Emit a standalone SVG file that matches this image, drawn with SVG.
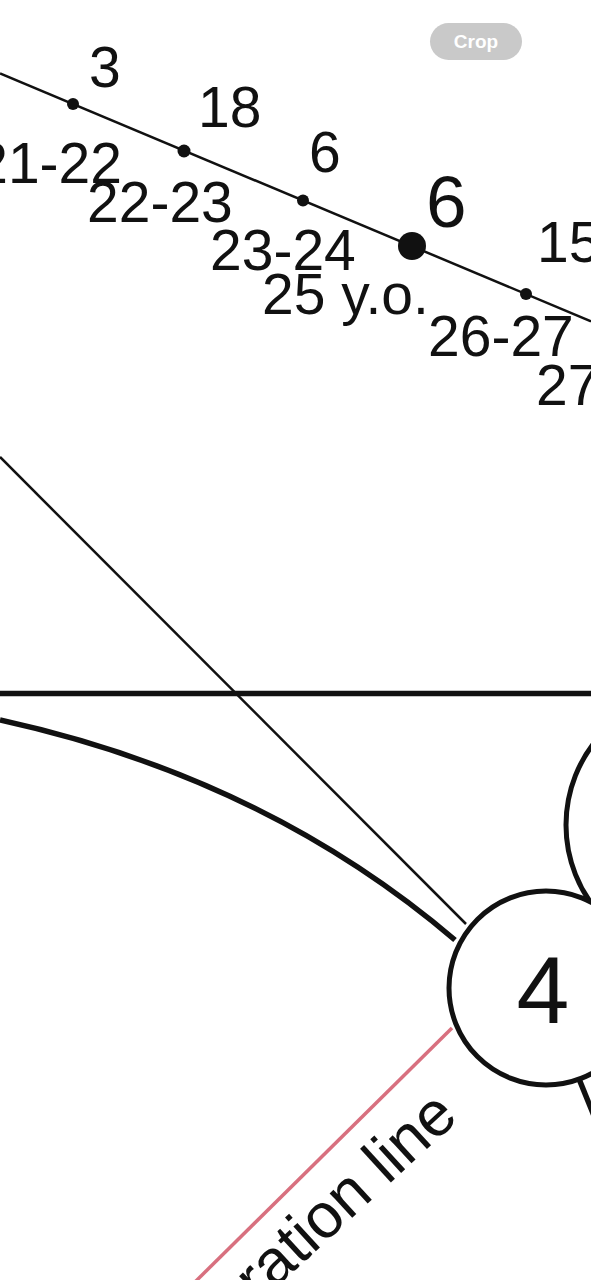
<svg xmlns="http://www.w3.org/2000/svg" width="591" height="1280" viewBox="0 0 591 1280">
<style>
.lbl{font-family:"Liberation Sans",Arial,sans-serif;font-size:57px;fill:#111}
.big{font-size:73px}
.node circle{fill:#fff;stroke:#111;stroke-width:5}
.thin{stroke:#111;stroke-width:2.5;fill:none}
.thick{stroke:#111;stroke-width:5.5;fill:none}
.dot{fill:#111}
</style>
<rect width="591" height="1280" fill="#fff"/>
<g id="timeline">
<line class="thin" x1="0" y1="73.4" x2="591" y2="321.3"/>
<circle class="dot" cx="73" cy="104" r="6"/>
<circle class="dot" cx="184" cy="151" r="6.5"/>
<circle class="dot" cx="303" cy="200.5" r="6"/>
<circle class="dot" cx="412" cy="246" r="14"/>
<circle class="dot" cx="526" cy="294" r="6"/>
<text class="lbl" x="89" y="87">3</text>
<text class="lbl" x="198" y="127">18</text>
<text class="lbl" x="309" y="172">6</text>
<text class="lbl big" x="426" y="227">6</text>
<text class="lbl" x="537" y="262">15</text>
<text class="lbl" x="122" y="183" text-anchor="end">21-22</text>
<text class="lbl" x="87" y="222">22-23</text>
<text class="lbl" x="210" y="270">23-24</text>
<text class="lbl" x="262" y="314">25 y.o.</text>
<text class="lbl" x="428" y="356">26-27</text>
<text class="lbl" x="536" y="405">27</text>
</g>
<g id="connectors">
<line class="thin" x1="0" y1="457" x2="466" y2="924"/>
<line class="thick" x1="0" y1="693.5" x2="591" y2="693.5"/>
<path class="thick" d="M0,720 Q265,778 455,940"/>
<line stroke="#d8707f" stroke-width="3.5" x1="452" y1="1028" x2="195" y2="1282"/>
<line class="thick" x1="577" y1="1074" x2="620" y2="1180"/>
<text class="lbl" transform="translate(460,1119) rotate(-42.5)" text-anchor="end" style="font-size:63px">ration line</text>
</g>
<g id="node-right" class="node">
<circle cx="700" cy="825" r="134"/>
</g>
<g id="node-4" class="node">
<circle cx="546" cy="988" r="97"/>
<text class="lbl" x="543" y="1023" text-anchor="middle" style="font-size:95px">4</text>
</g>
<g id="crop-button">
<rect x="430" y="23" width="92" height="37" rx="18.5" fill="#c9c9c9"/>
<text x="476" y="48" text-anchor="middle" style="font-family:'Liberation Sans',Arial,sans-serif;font-size:19px;font-weight:bold;fill:#fff">Crop</text>
</g>
</svg>
